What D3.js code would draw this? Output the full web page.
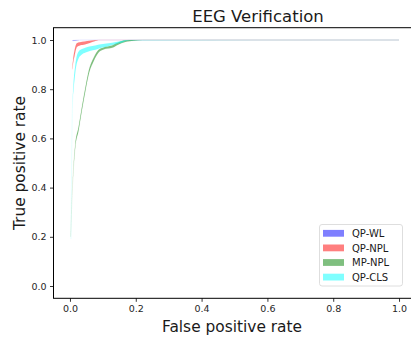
<!DOCTYPE html>
<html>
<head>
<meta charset="utf-8">
<script src="https://cdnjs.cloudflare.com/ajax/libs/d3/7.8.5/d3.min.js"></script>
<style>
  body { margin: 0; background: #fff; }
  svg { display: block; font-family: "DejaVu Sans", sans-serif; }
</style>
</head>
<body>
<div id="chart"></div>
<script>
// ROC bands (fpr, lower tpr, upper tpr)
const wlFpr = [0.008, 0.015, 0.03, 1.0];
const wlLow = [0.996, 0.998, 1.0, 1.0];
const wlHigh = [0.998, 1.0, 1.0, 1.0];

const nplFpr = [0.007, 0.01, 0.014, 0.018, 0.021, 0.03, 0.045, 0.06, 0.075, 0.087, 1.0];
const nplLow = [0.88, 0.91, 0.935, 0.96, 0.972, 0.978, 0.982, 0.988, 0.995, 1.0, 1.0];
const nplHigh = [0.885, 0.925, 0.958, 0.98, 0.987, 0.991, 0.994, 0.997, 0.999, 1.0, 1.0];

const mpFpr = [0.002, 0.004, 0.006, 0.008, 0.011, 0.016, 0.026, 0.036, 0.047, 0.057, 0.072, 0.087, 0.102, 0.128, 0.148, 0.168, 0.194, 0.22, 1.0];
const mpLow = [0.2, 0.27, 0.35, 0.41, 0.48, 0.562, 0.63, 0.711, 0.793, 0.86, 0.914, 0.949, 0.961, 0.968, 0.982, 0.992, 0.997, 1.0, 1.0];
const mpHigh = [0.2005, 0.271, 0.352, 0.414, 0.488, 0.574, 0.645, 0.726, 0.808, 0.875, 0.928, 0.96, 0.97, 0.978, 0.991, 0.999, 1.0, 1.0, 1.0];

const clsFpr = [0.003, 0.005, 0.007, 0.009, 0.011, 0.016, 0.02, 0.026, 0.035, 0.047, 0.06, 0.077, 0.095, 0.118, 0.14, 0.158, 0.18, 1.0];
const clsLow = [0.19, 0.48, 0.7, 0.77, 0.8, 0.865, 0.9, 0.925, 0.94, 0.949, 0.955, 0.96, 0.968, 0.976, 0.984, 0.99, 0.999, 1.0];
const clsHigh = [0.1905, 0.481, 0.703, 0.78, 0.825, 0.895, 0.93, 0.952, 0.962, 0.969, 0.974, 0.978, 0.983, 0.987, 0.992, 0.996, 1.0, 1.0];

const seriesNames = ["QP-WL", "QP-NPL", "MP-NPL", "QP-CLS"];
const seriesColors = ["#0000ff", "#ff0000", "#008000", "#00ffff"];
const xTicks = [0.0, 0.2, 0.4, 0.6, 0.8, 1.0];
const yTicks = [0.0, 0.2, 0.4, 0.6, 0.8, 1.0];

const width = 411;
const height = 338;
const margin = { left: 53.5, right: 415.5, top: 27.7, bottom: 298.3 };

const x = d3.scaleLinear().domain([-0.05, 1.05]).range([margin.left, margin.right]);
const y = d3.scaleLinear().domain([-0.05, 1.05]).range([margin.bottom, margin.top]);

const svg = d3.select("#chart").append("svg")
  .attr("width", width)
  .attr("height", height);

// build band records
function band(fpr, low, high) {
  return fpr.map((f, i) => ({ f: f, lo: low[i], hi: high[i] }));
}
const bands = [
  band(wlFpr, wlLow, wlHigh),
  band(nplFpr, nplLow, nplHigh),
  band(mpFpr, mpLow, mpHigh),
  band(clsFpr, clsLow, clsHigh)
];

const area = d3.area()
  .x(d => x(d.f))
  .y0(d => y(d.lo))
  .y1(d => y(d.hi))
  .curve(d3.curveMonotoneX);

const plot = svg.append("g");
bands.forEach((b, i) => {
  plot.append("path")
    .datum(b)
    .attr("d", area)
    .attr("fill", seriesColors[i])
    .attr("fill-opacity", 0.5)
    .attr("stroke", seriesColors[i])
    .attr("stroke-opacity", 0.25)
    .attr("stroke-width", 0.2);
});

// spines
svg.append("rect")
  .attr("x", margin.left)
  .attr("y", margin.top)
  .attr("width", margin.right - margin.left)
  .attr("height", margin.bottom - margin.top)
  .attr("fill", "none")
  .attr("stroke", "#000")
  .attr("stroke-width", 1);

// axes
const xAxis = svg.append("g")
  .attr("transform", `translate(0,${margin.bottom})`)
  .call(d3.axisBottom(x).tickValues(xTicks).tickFormat(d3.format(".1f")).tickSizeOuter(0).tickSize(3.5).tickPadding(3.5));
const yAxis = svg.append("g")
  .attr("transform", `translate(${margin.left},0)`)
  .call(d3.axisLeft(y).tickValues(yTicks).tickFormat(d3.format(".1f")).tickSizeOuter(0).tickSize(3.5).tickPadding(3.5));

[xAxis, yAxis].forEach(a => {
  a.select(".domain").remove();
  a.selectAll("text")
    .attr("font-family", "DejaVu Sans")
    .attr("font-size", 9.5)
    .attr("fill", "#262626");
  a.selectAll("line").attr("stroke", "#000").attr("stroke-width", 0.8);
});

// titles
svg.append("text")
  .attr("x", 258)
  .attr("y", 22)
  .attr("text-anchor", "middle")
  .attr("font-size", 16.5)
  .attr("fill", "#1a1a1a")
  .text("EEG Verification");

svg.append("text")
  .attr("x", 232)
  .attr("y", 332)
  .attr("text-anchor", "middle")
  .attr("font-size", 15.4)
  .attr("fill", "#1a1a1a")
  .text("False positive rate");

svg.append("text")
  .attr("transform", `translate(25,${(margin.top + margin.bottom) / 2}) rotate(-90)`)
  .attr("text-anchor", "middle")
  .attr("font-size", 15.4)
  .attr("fill", "#1a1a1a")
  .text("True positive rate");

// legend
const legend = svg.append("g");
legend.append("rect")
  .attr("x", 319.5)
  .attr("y", 224.5)
  .attr("width", 83)
  .attr("height", 61.5)
  .attr("rx", 2.5)
  .attr("fill", "#fff")
  .attr("fill-opacity", 0.8)
  .attr("stroke", "#d6d6d6")
  .attr("stroke-width", 0.8);

seriesNames.forEach((name, i) => {
  const cy = 233.3 + i * 14.6;
  legend.append("rect")
    .attr("x", 323)
    .attr("y", cy - 3.4)
    .attr("width", 21)
    .attr("height", 6.8)
    .attr("fill", seriesColors[i])
    .attr("fill-opacity", 0.5);
  legend.append("text")
    .attr("x", 352)
    .attr("y", cy + 3.6)
    .attr("font-size", 10)
    .attr("fill", "#1a1a1a")
    .text(name);
});
</script>
</body>
</html>
